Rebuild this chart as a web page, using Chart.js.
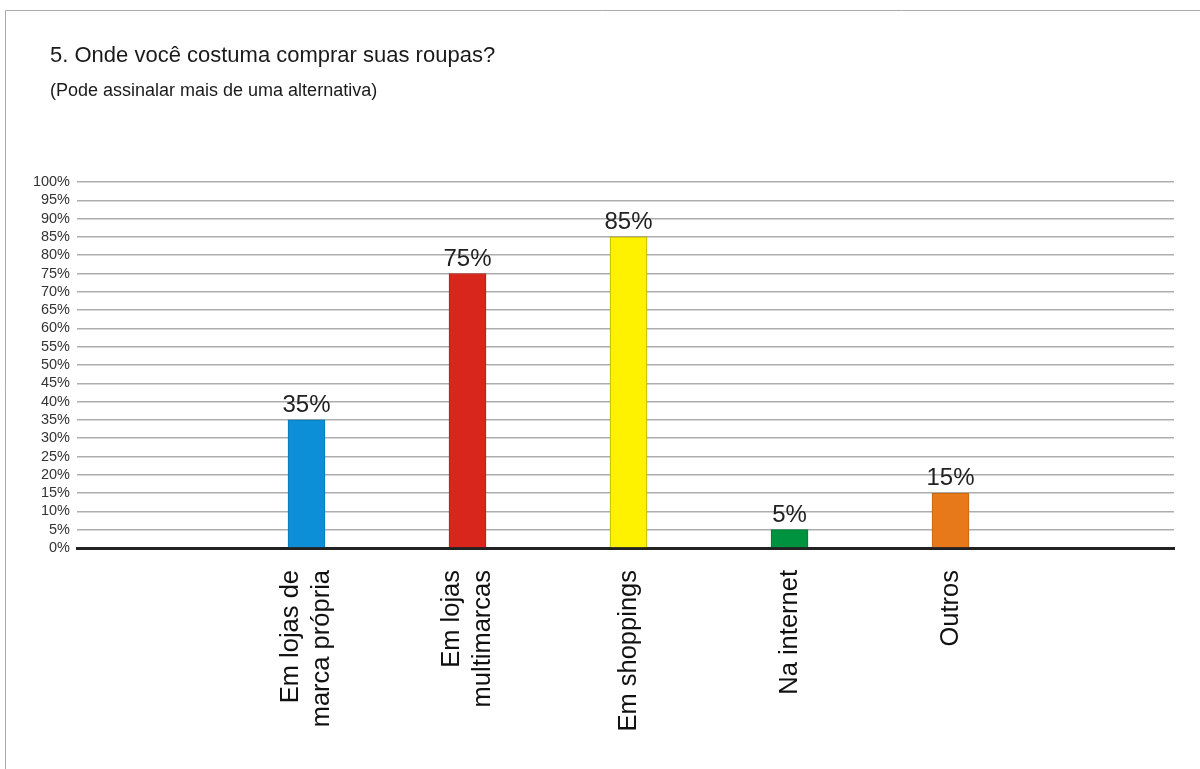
<!DOCTYPE html>
<html><head><meta charset="utf-8">
<script src="https://cdn.jsdelivr.net/npm/chart.js@4.4.1/dist/chart.umd.min.js"></script>
<style>html,body{margin:0;padding:0;background:#fff;overflow:hidden}#wrap{width:1200px;height:769px;position:relative}</style>
</head><body><div id="wrap"><canvas id="c" width="1200" height="769"></canvas></div>
<script>
const titleText = '5. Onde você costuma comprar suas roupas?';
const subtitleText = '(Pode assinalar mais de uma alternativa)';
const categories = ['Em lojas de\nmarca própria', 'Em lojas\nmultimarcas', 'Em shoppings', 'Na internet', 'Outros'];
const values = [35, 75, 85, 5, 15];
const barColors = ['#0c8fd6', '#d9261c', '#fff200', '#00933f', '#e8791a'];
const barBorders = ['#0b78b4', '#b81f17', '#b7ab00', '#007a33', '#c2640f'];
const yMin = 0, yMax = 100, yStep = 5;

const FONT = '"Liberation Sans", Arial, sans-serif';

const decor = {
  id: 'decor',
  afterDraw(chart) {
    const ctx = chart.ctx;
    ctx.save();
    // frame
    ctx.strokeStyle = '#a9a9a9';
    ctx.lineWidth = 1;
    ctx.beginPath();
    ctx.moveTo(5.5, 769); ctx.lineTo(5.5, 10.5); ctx.lineTo(1200, 10.5);
    ctx.stroke();
    // titles
    ctx.fillStyle = '#1a1a1a';
    ctx.textAlign = 'left';
    ctx.textBaseline = 'alphabetic';
    ctx.font = '22px ' + FONT;
    ctx.fillText(titleText, 50, 62);
    ctx.font = '18px ' + FONT;
    ctx.fillText(subtitleText, 50, 96);
    // value labels
    const meta = chart.getDatasetMeta(0);
    ctx.font = '24px ' + FONT;
    ctx.textAlign = 'center';
    ctx.fillStyle = '#222';
    meta.data.forEach((bar, i) => {
      ctx.fillText(values[i] + '%', bar.x, bar.y - 8);
    });
    // category labels (rotated, lines centred on the bar)
    const xs = chart.scales.x;
    ctx.font = '25.5px ' + FONT;
    ctx.fillStyle = '#111';
    ctx.textAlign = 'right';
    ctx.textBaseline = 'middle';
    const lh = 31;
    categories.forEach((c, i) => {
      const px = xs.getPixelForValue(i + 1);
      const lines = c.split('\n');
      ctx.save();
      ctx.translate(px, 570);
      ctx.rotate(-Math.PI / 2);
      lines.forEach((ln, j) => {
        ctx.fillText(ln, 0, (j - (lines.length - 1) / 2) * lh);
      });
      ctx.restore();
    });
    ctx.restore();
  }
};

new Chart(document.getElementById('c'), {
  type: 'bar',
  data: {
    datasets: [{
      data: values.map((v, i) => ({ x: i + 1, y: v })),
      backgroundColor: barColors,
      borderColor: barBorders,
      borderWidth: 1,
      borderSkipped: 'bottom',
      barThickness: 37
    }]
  },
  options: {
    responsive: false,
    devicePixelRatio: 1,
    animation: false,
    layout: { padding: { top: 182, right: 26, bottom: 0, left: 0 } },
    plugins: { legend: { display: false }, tooltip: { enabled: false }, title: { display: false } },
    scales: {
      x: {
        type: 'linear',
        offset: false,
        min: -0.4255,
        max: 6.388,
        grid: { display: false, drawTicks: false },
        ticks: { display: false },
        border: { display: true, color: '#222', width: 3 },
        afterFit(s) { s.height = 221; }
      },
      y: {
        min: yMin,
        max: yMax,
        ticks: {
          stepSize: yStep,
          autoSkip: false,
          callback: v => v + '%',
          font: { family: FONT, size: 14.5 },
          color: '#333',
          padding: 7
        },
        grid: {
          color: c => (c.tick && c.tick.value === 0) ? 'rgba(0,0,0,0)' : '#adadad',
          lineWidth: 1.5,
          drawTicks: false
        },
        border: { display: false },
        afterFit(s) { s.width = 77; }
      }
    }
  },
  plugins: [decor]
});
</script>
</body></html>
